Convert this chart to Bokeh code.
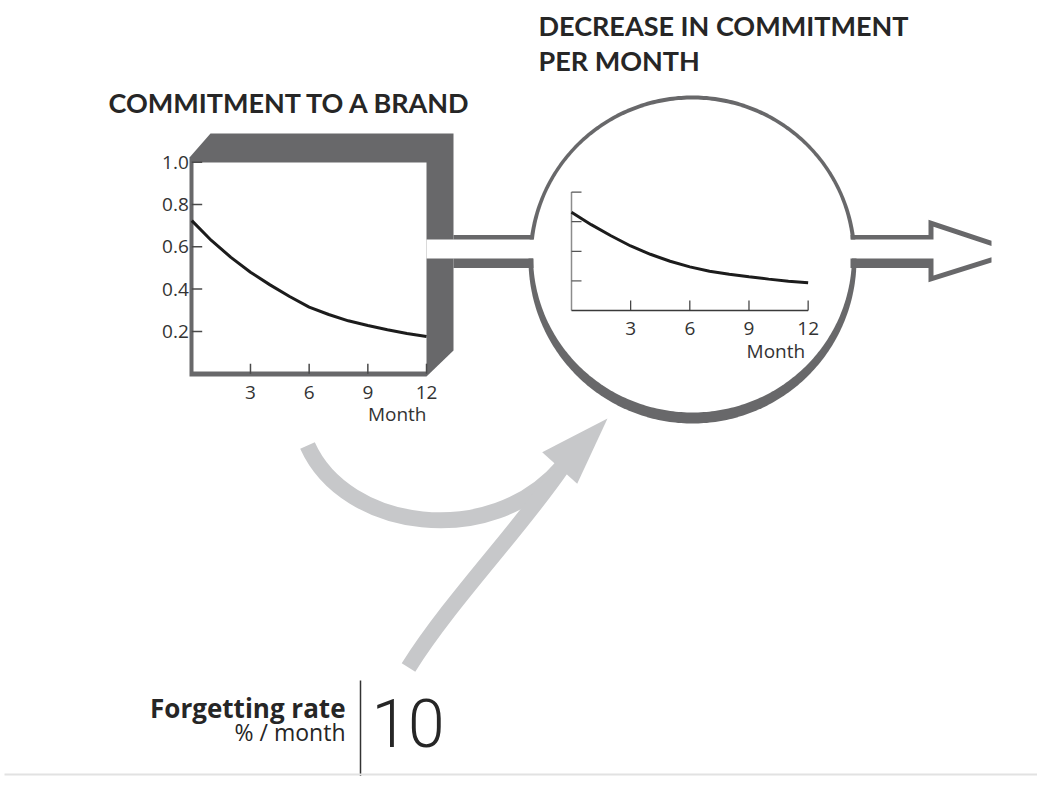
import numpy as np
from bokeh.plotting import figure
from bokeh.models import Range1d
from bokeh.core.properties import value
from bokeh.embed import file_html
from bokeh.resources import INLINE

# ---------------- data ----------------
months = list(range(13))
commitment = [0.724, 0.63, 0.55, 0.48, 0.42, 0.365, 0.315, 0.28, 0.25, 0.228, 0.208, 0.19, 0.176]
decrease = [0.0664, 0.058, 0.0505, 0.0436, 0.038, 0.0333, 0.0295, 0.0265, 0.0245, 0.0228, 0.0212, 0.0198, 0.0187]
month_ticks = [3, 6, 9, 12]
month_tick_labels = ["3", "6", "9", "12"]
commit_ticks = [0.2, 0.4, 0.6, 0.8, 1.0]
commit_tick_labels = ["0.2", "0.4", "0.6", "0.8", "1.0"]
decrease_ticks = [0.02, 0.04, 0.06, 0.08]
forgetting_rate = 10

title_left = "COMMITMENT TO A BRAND"
title_right = ["DECREASE IN COMMITMENT", "PER MONTH"]
x_label = "Month"
rate_label = "Forgetting rate"
rate_unit = "% / month"

# ---------------- styles ----------------
DARK = "#68686a"
LIGHT = "#c7c8ca"
INK = "#262626"
TICK_FONT = value("Open Sans")
TITLE_FONT = value("Lato")

# ---------------- canvas (1 unit = 1 screen pixel) ----------------
W, H = 1037, 776
p = figure(width=W, height=H, output_backend="svg", toolbar_location=None,
           x_range=Range1d(0, W), y_range=Range1d(H, 0),
           min_border=0, outline_line_color=None,
           x_axis_location=None, y_axis_location=None)
p.grid.visible = False
p.background_fill_color = "white"
p.border_fill_color = "white"

# panel scales: value v -> screen x0 + kx*v ; value -> screen y0 - ky*v
PANELS = {
    "box": dict(x0=191.3, kx=19.56, y0=373.2, ky=211.5),
    "circ": dict(x0=571.0, kx=19.72, y0=310.0, ky=1480.0),
}
xr, yr = {}, {}
for name, s in PANELS.items():
    xr[name] = Range1d((0 - s["x0"]) / s["kx"], (W - s["x0"]) / s["kx"])
    yr[name] = Range1d((s["y0"] - H) / s["ky"], (s["y0"] - 0) / s["ky"])
p.extra_x_ranges = xr
p.extra_y_ranges = yr

def dx(name, px):
    return px / PANELS[name]["kx"]

def dy(name, px):
    return px / PANELS[name]["ky"]

# ---------------- 3D box ----------------
p.patch([189, 189, 210, 453, 453, 426], [376, 157, 133, 133, 350, 376],
        fill_color=DARK, line_color=None)
p.quad(left=[193], right=[426], top=[162], bottom=[371], fill_color="white", line_color=None)

# ---------------- ring ----------------
t = np.linspace(0, 2 * np.pi, 361)
p.patch(692 + 164 * np.cos(t), 259 + 164 * np.sin(t), fill_color=DARK, line_color=None)
p.patch(692 + 159.5 * np.cos(t), 255.5 + 156.5 * np.sin(t), fill_color="white", line_color=None)

# ---------------- pipe ----------------
p.quad(left=[426], right=[991], top=[239], bottom=[258], fill_color="white", line_color=None)
p.quad(left=[453, 453], right=[533, 533], top=[234.5, 258], bottom=[239, 267.5],
       fill_color=DARK, line_color=None)
p.patch([850, 928, 928, 991, 991, 933, 933, 850],
        [234.5, 234.5, 219.3, 240.3, 245.5, 226.3, 239, 239], fill_color=DARK, line_color=None)
p.patch([850, 933, 933, 991, 991, 928, 928, 850],
        [258, 258, 275, 256.7, 262, 281.7, 267.5, 267.5], fill_color=DARK, line_color=None)

# ---------------- left chart: commitment ----------------
n = len(commit_ticks)
p.segment(x0=[0] * n, y0=commit_ticks, x1=[dx("box", 10.4)] * n, y1=commit_ticks,
          x_range_name="box", y_range_name="box", line_color="#4a4a4a", line_width=1.5)
m = len(month_ticks)
p.segment(x0=month_ticks, y0=[0] * m, x1=month_ticks, y1=[dy("box", 10)] * m,
          x_range_name="box", y_range_name="box", line_color="#4a4a4a", line_width=1.5)
p.line(months, commitment, x_range_name="box", y_range_name="box",
       line_color="#1c1c1c", line_width=3)
p.text(x=[0] * n, y=commit_ticks, text=commit_tick_labels, x_range_name="box", y_range_name="box",
       x_offset=-3, text_align="right", text_baseline="middle", text_font=TICK_FONT,
       text_font_size="19px", text_color="#333333")
p.text(x=month_ticks, y=[-dy("box", 18.5)] * m, text=month_tick_labels,
       x_range_name="box", y_range_name="box", text_align="center", text_baseline="middle",
       text_font=TICK_FONT, text_font_size="19px", text_color="#333333")
p.text(x=[12], y=[-dy("box", 40.5)], text=[x_label], x_range_name="box", y_range_name="box",
       x_offset=0, text_align="right", text_baseline="middle",
       text_font=TICK_FONT, text_font_size="19px", text_color="#333333")

# ---------------- circle chart: decrease per month ----------------
k = len(decrease_ticks)
p.segment(x0=[0], y0=[0], x1=[0], y1=[max(decrease_ticks)], x_range_name="circ", y_range_name="circ",
          line_color="#8c8c8c", line_width=1.5)
p.segment(x0=[0] * k, y0=decrease_ticks, x1=[dx("circ", 10)] * k, y1=decrease_ticks,
          x_range_name="circ", y_range_name="circ", line_color="#555555", line_width=1.2)
p.segment(x0=[0], y0=[0], x1=[max(month_ticks)], y1=[0], x_range_name="circ", y_range_name="circ",
          line_color="#3a3a3a", line_width=1.5)
p.segment(x0=month_ticks, y0=[0] * m, x1=month_ticks, y1=[dy("circ", 10)] * m,
          x_range_name="circ", y_range_name="circ", line_color="#3a3a3a", line_width=1.2)
p.line(months, decrease, x_range_name="circ", y_range_name="circ",
       line_color="#1c1c1c", line_width=3)
p.text(x=month_ticks, y=[-dy("circ", 18)] * m, text=month_tick_labels,
       x_range_name="circ", y_range_name="circ", text_align="center", text_baseline="middle",
       text_font=TICK_FONT, text_font_size="19px", text_color="#333333")
p.text(x=[12], y=[-dy("circ", 40)], text=[x_label], x_range_name="circ", y_range_name="circ",
       x_offset=-3, text_align="right", text_baseline="middle",
       text_font=TICK_FONT, text_font_size="19px", text_color="#333333")

# ---------------- curved grey arrows ----------------
p.bezier(x0=[307, 408], y0=[445, 667], x1=[562, 562], y1=[466, 466],
         cx0=[345, 450], cy0=[530, 600], cx1=[490, 520], cy1=[550, 528],
         line_color=LIGHT, line_width=16, line_cap="butt")
p.patch([607, 541.7, 576.7], [418, 451.7, 483.3], fill_color=LIGHT, line_color=None)

# ---------------- titles ----------------
p.text(x=[108], y=[102], text=[title_left], text_font=TITLE_FONT, text_font_size="27px",
       text_font_style="bold", text_color=INK, text_align="left", text_baseline="middle")
p.text(x=[538, 538], y=[25, 60], text=title_right, text_font=TITLE_FONT, text_font_size="27px",
       text_font_style="bold", text_color=INK, text_align="left", text_baseline="middle")

# ---------------- forgetting rate ----------------
p.text(x=[345], y=[707], text=[rate_label], text_font=value("Open Sans"), text_font_size="26px",
       text_font_style="bold", text_color=INK, text_align="right", text_baseline="middle")
p.text(x=[345], y=[731], text=[rate_unit], text_font=value("Open Sans"), text_font_size="23px",
       text_color=INK, text_align="right", text_baseline="middle")
p.segment(x0=[360], y0=[680], x1=[360], y1=[776], line_color="#333333", line_width=1.5)
p.text(x=[371], y=[722], text=[str(forgetting_rate)], text_font=value("Roboto Light, Open Sans"),
       text_font_size="66px", text_color=INK, text_align="left", text_baseline="middle")

# bottom rule
p.segment(x0=[4], y0=[774], x1=[1037], y1=[774], line_color="#e2e2e2", line_width=2)

open("out.html", "w").write(file_html(p, INLINE))
